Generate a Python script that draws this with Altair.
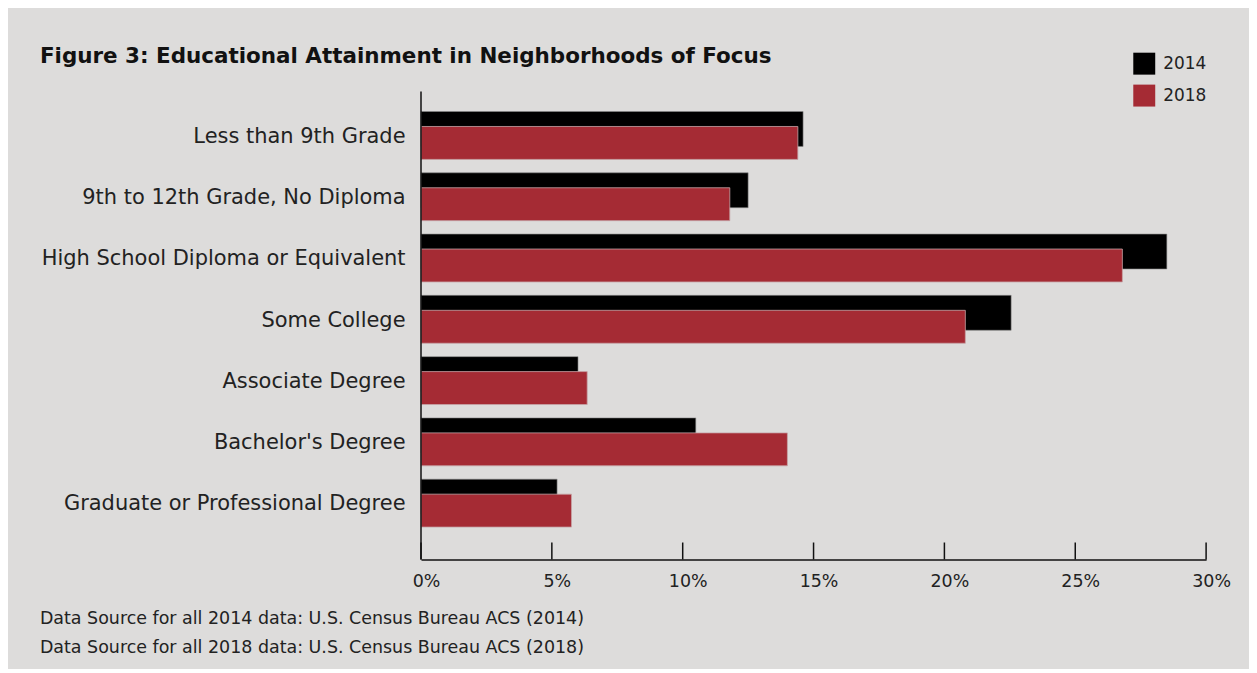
import altair as alt
import pandas as pd

categories = [
    "Less than 9th Grade",
    "9th to 12th Grade, No Diploma",
    "High School Diploma or Equivalent",
    "Some College",
    "Associate Degree",
    "Bachelor's Degree",
    "Graduate or Professional Degree",
]
values_2014 = [14.6, 12.5, 28.5, 22.55, 6.0, 10.5, 5.2]
values_2018 = [14.4, 11.8, 26.8, 20.8, 6.35, 14.0, 5.75]
years = ["2014", "2018"]
colors = ["#000000", "#a52b34"]
tick_values = [0, 5, 10, 15, 20, 25, 30]
title_text = "Figure 3: Educational Attainment in Neighborhoods of Focus"
notes = [
    "Data Source for all 2014 data: U.S. Census Bureau ACS (2014)",
    "Data Source for all 2018 data: U.S. Census Bureau ACS (2018)",
]

FONT = "DejaVu Sans"
W, H = 787, 470

df = pd.DataFrame({
    "category": categories * 2,
    "year": ["2014"] * len(categories) + ["2018"] * len(categories),
    "value": values_2014 + values_2018,
})

yscale = alt.Scale(domain=categories, range=[14, 444], paddingInner=0, paddingOuter=0)
xscale = alt.Scale(domain=[0, 30], nice=False)
color = alt.Color(
    "year:N",
    scale=alt.Scale(domain=years, range=colors),
    legend=alt.Legend(
        title=None, orient="none", legendX=714, legendY=-38,
        symbolType="square", symbolSize=484, symbolStrokeWidth=0,
        symbolOpacity=1, labelFontSize=17, labelFont=FONT,
        labelColor="#222222", labelOffset=8, rowPadding=10,
    ),
)

base = alt.Chart(df)

bars14 = base.transform_filter(alt.datum.year == "2014").mark_bar(
    height=35, yOffset=-6.25, stroke="#8a8a8a", strokeWidth=0.6
).encode(
    x=alt.X("value:Q", scale=xscale,
            axis=alt.Axis(values=tick_values, format="d", labelExpr="datum.value + '%'",
                          title=None, grid=False, ticks=False, domain=True,
                          domainColor="#111111", domainWidth=1.5,
                          labelFont=FONT, labelFontSize=17.5, labelColor="#222222",
                          labelPadding=13, labelFlush=False, labelOffset=5)),
    y=alt.Y("category:N", scale=yscale, sort=categories,
            axis=alt.Axis(title=None, ticks=False, domain=False,
                          labelFont=FONT, labelFontSize=21, labelOffset=1.5,
                          labelColor="#222222", labelPadding=16, labelLimit=420)),
    color=color,
)

bars18 = base.transform_filter(alt.datum.year == "2018").mark_bar(
    height=33, yOffset=7.75, stroke="#c7a5a7", strokeWidth=0.8
).encode(
    x=alt.X("value:Q", scale=xscale),
    y=alt.Y("category:N", scale=yscale, sort=categories),
    color=color,
)

ticks_df = pd.DataFrame({"t": tick_values})
tick_marks = alt.Chart(ticks_df).mark_rule(color="#111111", strokeWidth=1.5).encode(
    x=alt.X("t:Q", scale=xscale),
    y=alt.value(H - 17),
    y2=alt.value(H),
)

yaxis_line = alt.Chart(pd.DataFrame({"a": [0]})).mark_rule(color="#111111", strokeWidth=1.5).encode(
    x=alt.value(0), y=alt.value(1), y2=alt.value(H)
)

title_mark = alt.Chart(pd.DataFrame({"t": [title_text]})).mark_text(
    align="left", baseline="middle", font=FONT, fontSize=21.5, fontWeight="bold", color="#111111"
).encode(x=alt.value(-382), y=alt.value(-34), text="t:N")

note1 = alt.Chart(pd.DataFrame({"t": [notes[0]]})).mark_text(
    align="left", baseline="middle", font=FONT, fontSize=17.5, color="#222222"
).encode(x=alt.value(-382), y=alt.value(H + 60), text="t:N")

note2 = alt.Chart(pd.DataFrame({"t": [notes[1]]})).mark_text(
    align="left", baseline="middle", font=FONT, fontSize=17.5, color="#222222"
).encode(x=alt.value(-382), y=alt.value(H + 89), text="t:N")

chart = alt.layer(bars14, bars18, tick_marks, yaxis_line, title_mark, note1, note2).properties(
    width=W, height=H,
    background="#dddcdb",
    padding={"left": 414, "top": 82, "right": 43, "bottom": 109},
    autosize=alt.AutoSizeParams(type="none"),
).configure_view(stroke=None)

chart.save("out.html", embed_options={"renderer": "svg", "actions": False})
